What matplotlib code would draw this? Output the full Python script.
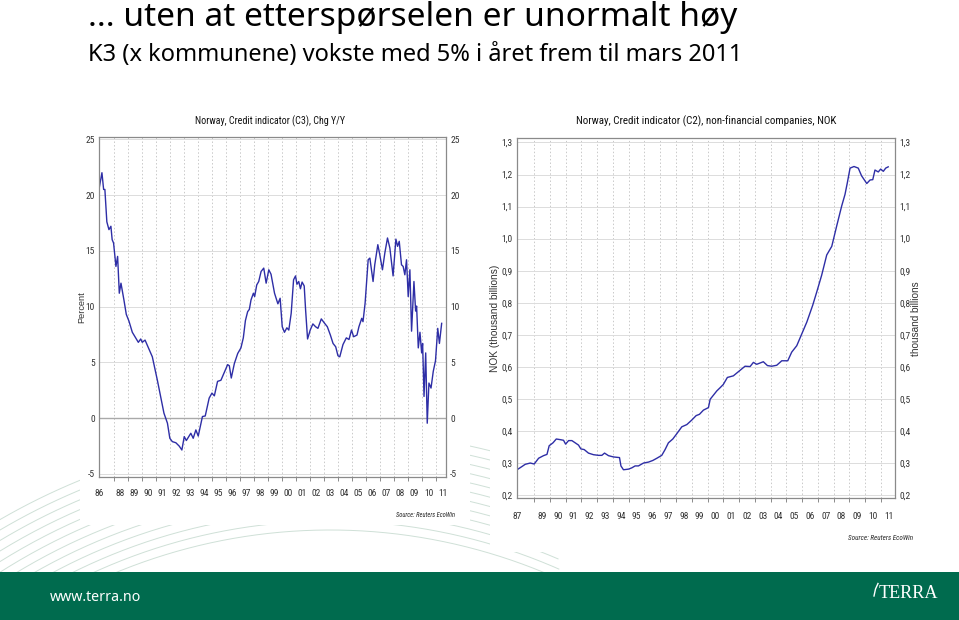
import os
import numpy as np
import matplotlib
matplotlib.use("Agg")
import matplotlib.pyplot as plt
from matplotlib import font_manager
from matplotlib.font_manager import FontProperties
from matplotlib.ticker import FixedLocator, FixedFormatter, NullFormatter
from matplotlib.patches import Rectangle

# ---------------- data ----------------
c3_years = [1986.97, 1987.17, 1987.29, 1987.38, 1987.52, 1987.67, 1987.81, 1987.90, 1988.00,
            1988.17, 1988.29, 1988.41, 1988.53, 1988.74, 1988.91, 1989.10, 1989.34, 1989.77,
            1989.94, 1990.05, 1990.25, 1990.53, 1990.77, 1991.13, 1991.37, 1991.60, 1991.85,
            1992.02, 1992.20, 1992.45, 1992.69, 1992.88, 1993.05, 1993.20, 1993.52, 1993.69,
            1993.88, 1994.05, 1994.35, 1994.55, 1994.83, 1995.03, 1995.20, 1995.43, 1995.67,
            1995.84, 1996.15, 1996.27, 1996.41, 1996.63, 1996.87, 1997.10, 1997.27, 1997.42,
            1997.58, 1997.70, 1997.82, 1997.99, 1998.08, 1998.23, 1998.37, 1998.54, 1998.73,
            1998.90, 1999.09, 1999.25, 1999.50, 1999.74, 1999.90, 2000.05, 2000.21, 2000.38,
            2000.52, 2000.69, 2000.86, 2001.00, 2001.10, 2001.23, 2001.35, 2001.47, 2001.62,
            2001.72, 2001.86, 2002.05, 2002.24, 2002.43, 2002.60, 2002.84, 2003.08, 2003.27,
            2003.49, 2003.68, 2003.87, 2004.03, 2004.16, 2004.39, 2004.63, 2004.82, 2005.00,
            2005.15, 2005.39, 2005.53, 2005.73, 2005.82, 2005.97, 2006.19, 2006.31, 2006.54,
            2006.66, 2006.88, 2007.02, 2007.21, 2007.38, 2007.57, 2007.74, 2007.97, 2008.17,
            2008.29, 2008.41, 2008.57, 2008.69, 2008.81, 2008.93, 2009.05, 2009.17, 2009.29,
            2009.46, 2009.58, 2009.65, 2009.77, 2009.89, 2010.01, 2010.08, 2010.18, 2010.30,
            2010.41, 2010.53, 2010.68, 2010.84, 2011.00, 2011.16, 2011.28, 2011.44]
c3_pct = [20.6, 22.0, 20.5, 20.5, 17.6, 16.9, 17.2, 16.0, 15.7,
          13.6, 14.5, 11.2, 12.1, 10.6, 9.3, 8.7, 7.7, 6.8,
          7.1, 6.8, 7.0, 6.2, 5.5, 3.4, 1.9, 0.45, -0.45,
          -1.8, -2.1, -2.2, -2.5, -2.85, -1.65, -2.0, -1.35, -1.8,
          -1.05, -1.6, 0.15, 0.2, 1.8, 2.25, 2.0, 3.3, 3.4,
          3.9, 4.8, 4.7, 3.6, 4.9, 5.8, 6.3, 7.2, 8.75,
          9.55, 9.75, 10.6, 11.2, 10.9, 11.95, 12.25, 13.15, 13.45,
          12.1, 13.3, 12.9, 11.2, 10.25, 10.75, 8.2, 7.7, 8.1,
          7.9, 9.4, 12.4, 12.75, 12.0, 12.25, 11.6, 12.2, 11.85,
          9.7, 7.1, 7.9, 8.45, 8.2, 8.05, 8.9, 8.5, 8.2,
          7.45, 6.7, 6.4, 5.6, 5.5, 6.6, 7.2, 7.05, 7.9,
          7.3, 7.45, 8.2, 8.95, 8.65, 10.3, 14.2, 14.35, 12.25,
          13.75, 15.55, 14.65, 13.3, 14.8, 16.15, 15.25, 12.75, 16.05,
          15.4, 15.85, 13.75, 13.6, 12.85, 14.2, 10.9, 13.3, 7.8,
          12.25, 9.6, 10.05, 6.3, 7.7, 5.85, 6.7, 1.95, 5.85,
          -0.45, 3.15, 2.7, 4.2, 5.15, 8.05, 6.7, 8.5]

c2_years = [1987.92, 1988.23, 1988.44, 1988.76, 1989.01, 1989.29, 1989.60, 1989.82, 1989.96,
            1990.20, 1990.41, 1990.66, 1990.87, 1991.00, 1991.19, 1991.40, 1991.61, 1991.82,
            1991.97, 1992.18, 1992.45, 1992.77, 1993.09, 1993.30, 1993.47, 1993.72, 1994.04,
            1994.42, 1994.51, 1994.67, 1994.99, 1995.20, 1995.41, 1995.62, 1995.94, 1996.26,
            1996.53, 1996.79, 1997.10, 1997.31, 1997.52, 1997.80, 1998.06, 1998.37, 1998.69,
            1999.00, 1999.28, 1999.49, 1999.74, 2000.06, 2000.17, 2000.59, 2000.80, 2001.00,
            2001.26, 2001.64, 2001.96, 2002.38, 2002.70, 2002.91, 2003.12, 2003.54, 2003.80,
            2004.07, 2004.39, 2004.71, 2005.09, 2005.34, 2005.66, 2005.98, 2006.30, 2006.67,
            2006.93, 2007.24, 2007.56, 2007.88, 2008.19, 2008.51, 2008.72, 2008.87, 2009.04,
            2009.29, 2009.56, 2009.77, 2010.10, 2010.31, 2010.48, 2010.62, 2010.83, 2010.98,
            2011.15, 2011.30, 2011.46]
c2_nok = [0.279, 0.289, 0.296, 0.300, 0.297, 0.315, 0.323, 0.327, 0.354,
          0.363, 0.375, 0.373, 0.371, 0.359, 0.370, 0.370, 0.363, 0.356,
          0.344, 0.342, 0.331, 0.326, 0.324, 0.324, 0.331, 0.323, 0.319,
          0.317, 0.291, 0.279, 0.281, 0.285, 0.291, 0.291, 0.300, 0.303,
          0.308, 0.315, 0.324, 0.342, 0.363, 0.375, 0.392, 0.413, 0.420,
          0.434, 0.448, 0.452, 0.465, 0.473, 0.499, 0.525, 0.535, 0.545,
          0.567, 0.572, 0.585, 0.602, 0.601, 0.614, 0.608, 0.616, 0.604,
          0.602, 0.605, 0.619, 0.619, 0.646, 0.666, 0.703, 0.740, 0.792,
          0.834, 0.886, 0.949, 0.976, 1.039, 1.102, 1.138, 1.175, 1.220,
          1.225, 1.220, 1.196, 1.172, 1.183, 1.184, 1.214, 1.208, 1.217,
          1.210, 1.220, 1.224]

c3_yticks = [-5, 0, 5, 10, 15, 20, 25]
c2_yticks = [0.2, 0.3, 0.4, 0.5, 0.6, 0.7, 0.8, 0.9, 1.0, 1.1, 1.2, 1.3]
c3_label_years = list(range(1988, 2012))
c2_label_years = list(range(1989, 2012))

heading = "... uten at etterspørselen er unormalt høy"
subheading = "K3 (x kommunene) vokste med 5% i året frem til mars 2011"
title_c3 = "Norway, Credit indicator (C3), Chg Y/Y"
title_c2 = "Norway, Credit indicator (C2), non-financial companies, NOK"
source_txt = "Source: Reuters EcoWin"

# ---------------- fonts ----------------
BAD = ("bold", "light", "thin", "medium", "black", "semi", "extra", "ultra", "heavy")


def find_font(italic):
    pref = ["liberationsansnarrow", "robotocondensed", "notosans-condensed",
            "notosanscondensed", "opensans-condensed", "opensans_condensed",
            "dejavusanscondensed", "latocondensed"]
    files = [f.fname for f in font_manager.fontManager.ttflist]
    cands = []
    for fn in files:
        b = os.path.basename(fn).lower()
        if not ("narrow" in b or "condensed" in b):
            continue
        if any(k in b for k in BAD):
            continue
        is_it = ("italic" in b or "oblique" in b)
        if is_it != italic:
            continue
        rank = next((i for i, p in enumerate(pref) if p in b.replace(" ", "")), 99)
        cands.append((rank, len(b), fn))
    if cands:
        return sorted(cands)[0][2]
    return None


narrow_path = find_font(False)
narrow_it_path = find_font(True)


def fp_narrow(size, italic=False):
    p = narrow_it_path if italic else narrow_path
    if p:
        return FontProperties(fname=p, size=size)
    return FontProperties(family="Liberation Sans", size=size,
                          style="italic" if italic else "normal", stretch="condensed")


HEAD = "Noto Sans"
LINE = "#2e2ea6"
SPINE = "#8a8a8a"
GREEN = "#006b4e"
TICKC = "#333333"

W, H = 959, 620
fig = plt.figure(figsize=(W / 100, H / 100), dpi=100)
fig.patch.set_facecolor("white")
renderer = fig.canvas.get_renderer()


def fx(px):
    return px / W


def fy(py):
    return 1 - py / H


def fit(t, length, vertical=False):
    bb = t.get_window_extent(renderer)
    cur = bb.height if vertical else bb.width
    t.set_fontsize(t.get_fontsize() * length / cur)


# ---------------- background decoration ----------------
bg = fig.add_axes([0, 0, 1, 1], zorder=-5)
bg.set_xlim(0, W)
bg.set_ylim(H, 0)
bg.axis("off")
th = np.linspace(0, 2 * np.pi, 1500)
for r in np.arange(560, 660, 9):
    cx, cy = 330, 1090
    x = cx + r * np.cos(th)
    y = cy + r * np.sin(th)
    m = (y < 575) & (x > -5) & (x < 560)
    bg.plot(np.where(m, x, np.nan), np.where(m, y, np.nan), color="#cfe0d7", lw=0.7)
for r in np.arange(420, 520, 10):
    cx, cy = 560, 900
    x = cx + r * np.cos(th)
    y = cy + r * np.sin(th)
    m = (y < 575) & (x < 140) & (x > -5)
    bg.plot(np.where(m, x, np.nan), np.where(m, y, np.nan), color="#d5e4dc", lw=0.7)
bg.add_patch(Rectangle((80, 100), 390, 425, facecolor="white", edgecolor="none", zorder=3))
bg.add_patch(Rectangle((490, 100), 440, 452, facecolor="white", edgecolor="none", zorder=3))
bg.add_patch(Rectangle((0, 572), W, 48, facecolor=GREEN, edgecolor="none", zorder=4))
bg.plot([874, 875.5, 878], [596, 589, 583.5], color="white", lw=1.0, zorder=5)

TICK_SIZE = 6.8


def style_axes(ax, xlim, ylim, yticks, yfmt, label_years, first_label, xpad):
    ax.set_xlim(*xlim)
    ax.set_ylim(*ylim)
    for s in ax.spines.values():
        s.set_color(SPINE)
        s.set_linewidth(0.9)
    ax.yaxis.set_major_locator(FixedLocator(yticks))
    ax.yaxis.set_major_formatter(FixedFormatter([yfmt(v) for v in yticks]))
    ax.tick_params(axis="y", which="major", left=True, right=True, labelleft=True,
                   labelright=True, length=0, pad=3, labelcolor=TICKC)
    bounds = [y for y in label_years if y > xlim[0] + 0.05]
    ax.xaxis.set_major_locator(FixedLocator(bounds))
    ax.xaxis.set_major_formatter(NullFormatter())
    mids = [xlim[0]] + [y + 0.5 for y in label_years]
    labs = [first_label] + [f"{y % 100:02d}" for y in label_years]
    ax.xaxis.set_minor_locator(FixedLocator(mids))
    ax.xaxis.set_minor_formatter(FixedFormatter(labs))
    ax.tick_params(axis="x", which="major", length=3, width=0.7, color=SPINE)
    ax.tick_params(axis="x", which="minor", length=0, pad=xpad, labelcolor=TICKC)
    ax.grid(axis="x", which="major", color="#c9c9c9", ls=(0, (1.5, 2.2)), lw=0.7)
    ax.grid(axis="y", which="major", color="#dcdcdc", ls="-", lw=0.7)
    ax.set_axisbelow(True)
    for lab in ax.get_xticklabels(minor=True):
        lab.set_fontproperties(fp_narrow(TICK_SIZE))
    for tk in ax.yaxis.get_major_ticks():
        tk.label1.set_fontproperties(fp_narrow(TICK_SIZE))
        tk.label2.set_fontproperties(fp_narrow(TICK_SIZE))


# ---------------- left chart ----------------
ax1 = fig.add_axes([fx(99), fy(477), fx(446) - fx(99), fy(137) - fy(477)])
style_axes(ax1, (1986.96, 2011.75), (-5.27, 25.2), c3_yticks, lambda v: f"{v:d}",
           c3_label_years, "86", 9)
ax1.axhline(0, color="#a9a9a9", lw=1.0, zorder=1)
ax1.plot(c3_years, c3_pct, color=LINE, lw=1.0)

# ---------------- right chart ----------------
ax2 = fig.add_axes([fx(516.7), fy(498.3), fx(895) - fx(516.7), fy(138.3) - fy(498.3)])
style_axes(ax2, (1987.9, 2011.89), (0.19, 1.313), c2_yticks,
           lambda v: f"{v:.1f}".replace(".", ","), c2_label_years, "87", 10)
ax2.plot(c2_years, c2_nok, color=LINE, lw=1.0)

# ---------------- texts ----------------
t = fig.text(fx(88), fy(26), heading, family=HEAD, fontsize=20, ha="left", va="baseline")
fit(t, 649)
t = fig.text(fx(88), fy(61), subheading, family=HEAD, fontsize=18, ha="left", va="baseline")
fit(t, 654)

t = fig.text(fx(270), fy(121), title_c3, fontproperties=fp_narrow(10), ha="center",
             va="center", color="#111111")
fit(t, 131 * 1.14)
t = fig.text(fx(706), fy(121), title_c2, fontproperties=fp_narrow(10), ha="center",
             va="center", color="#111111")
fit(t, 233 * 1.12)

t = fig.text(fx(82), fy(307), "Percent", family="Liberation Sans", fontsize=6,
             rotation=90, ha="center", va="center", color=TICKC)
fit(t, 32, vertical=True)
t = fig.text(fx(495), fy(318), "NOK (thousand billions)", family="Liberation Sans",
             fontsize=6, rotation=90, ha="center", va="center", color=TICKC)
fit(t, 108, vertical=True)
t = fig.text(fx(916), fy(319), "thousand billions", family="Liberation Sans", fontsize=6,
             rotation=90, ha="center", va="center", color=TICKC)
fit(t, 76, vertical=True)

t = fig.text(fx(455), fy(515), source_txt, fontproperties=fp_narrow(6, True),
             ha="right", va="center", color="#222222")
fit(t, 60)
t = fig.text(fx(913), fy(538), source_txt, fontproperties=fp_narrow(6, True),
             ha="right", va="center", color="#222222")
fit(t, 65)

t = fig.text(fx(50), fy(601), "www.terra.no", family="Noto Sans", fontsize=10,
             color="white", ha="left", va="baseline")
fit(t, 91)
t = fig.text(fx(879), fy(598), "TERRA", family="Liberation Serif", fontsize=11,
             color="white", ha="left", va="baseline")
fit(t, 60)

fig.savefig("out.png", dpi=100, facecolor="white")
